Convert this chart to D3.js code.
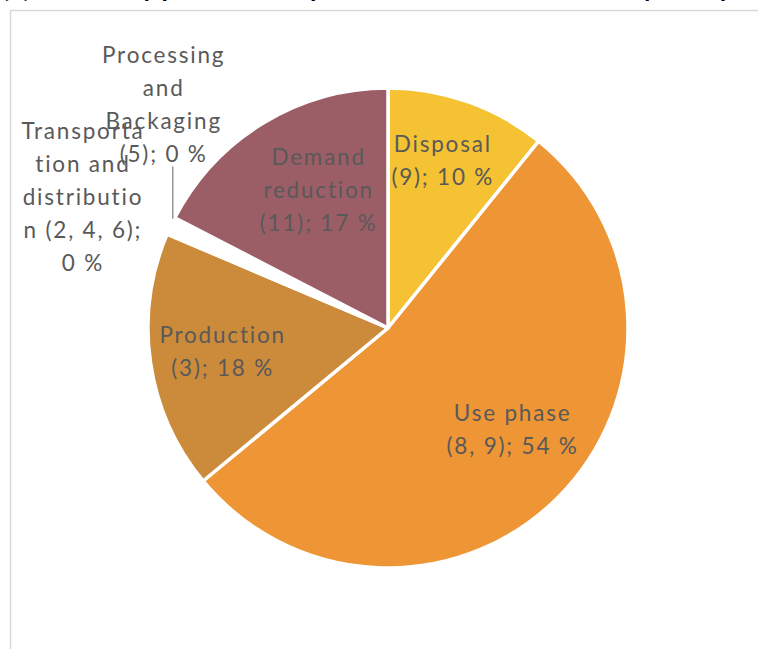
<!DOCTYPE html>
<html><head><meta charset="utf-8">
<script src="https://cdn.jsdelivr.net/npm/d3@7"></script>
<style>body{margin:0;background:#fff}svg{display:block}</style>
</head><body>
<svg id="c" width="758" height="649"></svg>
<script>
const categories = ["Disposal","Use phase","Production","Transportation and distribution","Processing and Packaging","Demand reduction"];
const values = [10.8, 53.2, 17.4, 0.6, 0.6, 17.4];
const labelLines = [
  ["Disposal","(9); 10 %"],
  ["Use phase","(8, 9); 54 %"],
  ["Production","(3); 18 %"],
  ["Transporta","tion and","distributio","n (2, 4, 6);","0 %"],
  ["Processing","and","Backaging","(5); 0 %"],
  ["Demand","reduction","(11); 17 %"]
];
const colors = ["#F4C232","#EE9535","#CC8B3B","#FFFFFF","#FFFFFF","#9C5E66"];
const titleText = "(b) Studies by phase of the product and the wider food system y";

const svg = d3.select("#c");
const cx = 388, cy = 328, R = 240;
const font = "Lato, 'Open Sans', sans-serif";

// chart border
svg.append("path").attr("d","M10.5,649 L10.5,10.5 L758,10.5")
  .attr("fill","none").attr("stroke","#d9d9d9").attr("stroke-width",1.5);

// cut-off title (only the descenders are visible in the reference)
svg.append("text").attr("x",2).attr("y",-3).attr("font-family",font)
  .attr("font-weight","bold").attr("font-size",26).attr("fill","#000").text(titleText);

const pie = d3.pie().value(d=>d).sort(null);
const arcs = pie(values);
const arc = d3.arc().innerRadius(0).outerRadius(R);
const g = svg.append("g").attr("transform",`translate(${cx},${cy})`);

g.selectAll("path.slice").data(arcs).enter().append("path")
  .attr("class","slice").attr("d",arc)
  .attr("fill",(d,i)=>colors[i]).attr("stroke","#fff").attr("stroke-width",3.5)
  .attr("stroke-linejoin","round");

// label layout: [radius, angle (deg, clockwise from top)]
const labelLayout = [[176,17.8],[160,129.4],[168,262],[333,293.2],[317,314.7],[155,333]];
const lh = 33;
arcs.forEach((d,i)=>{
  const [r, ang] = labelLayout[i];
  const a = ang*Math.PI/180;
  const x = r*Math.sin(a), y = -r*Math.cos(a);
  const lines = labelLines[i];
  const t = g.append("text").attr("font-family",font).attr("font-size",22.5)
    .attr("letter-spacing","1.8px")
    .attr("fill","#595959").attr("text-anchor","middle");
  lines.forEach((s,k)=>{
    t.append("tspan").attr("x",x+1).attr("y",y + (k-(lines.length-1)/2)*lh).attr("dy","0.35em").text(s);
  });
  if (i===4) {
    const ma = (d.startAngle+d.endAngle)/2;
    const bx = R*Math.sin(ma), by = -R*Math.cos(ma);
    const topY = y + ((lines.length-1)/2)*lh + 12;
    g.append("line").attr("x1",bx).attr("x2",bx).attr("y1",by-3).attr("y2",topY)
      .attr("stroke","#7f7f7f").attr("stroke-width",1.2);
  }
});
</script>
</body></html>
